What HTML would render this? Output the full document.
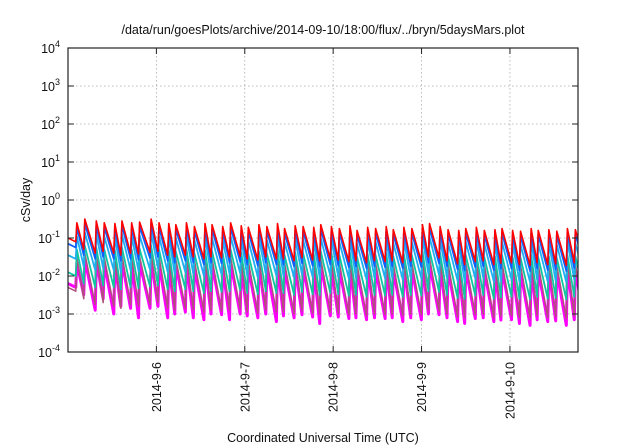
<!DOCTYPE html>
<html><head><meta charset="utf-8"><style>
body{margin:0;background:#fff}
svg{display:block;font-family:"Liberation Sans",Arial,sans-serif}
</style></head><body>
<svg id="chart" width="640" height="448" viewBox="0 0 640 448">
<text x="323" y="34" text-anchor="middle" font-size="12.5" fill="#111">/data/run/goesPlots/archive/2014-09-10/18:00/flux/../bryn/5daysMars.plot</text>
<text transform="translate(30,200) rotate(-90)" text-anchor="middle" font-size="12.5" fill="#111">cSv/day</text>
<text x="323" y="442" text-anchor="middle" font-size="12.5" fill="#111">Coordinated Universal Time (UTC)</text>
<g id="grid"></g><g id="series"></g><g id="axes"></g>
</svg>
<script>
const xTickLabels=["2014-9-6","2014-9-7","2014-9-8","2014-9-9","2014-9-10"];
const xTickDays=[1,2,3,4,5];
const yTickExps=[-4,-3,-2,-1,0,1,2,3,4];
const peakTimes=[0.1,0.19,0.32,0.41,0.53,0.61,0.72,0.81,0.94,1.03,1.14,1.22,1.34,1.43,1.55,1.63,1.75,1.84,1.96,2.04,2.16,2.25,2.37,2.45,2.57,2.66,2.78,2.86,2.98,3.07,3.19,3.27,3.39,3.48,3.60,3.68,3.80,3.89,4.01,4.09,4.21,4.30,4.42,4.50,4.62,4.71,4.83,4.91,5.03,5.12,5.24,5.32,5.44,5.53,5.65,5.74];
const redPeak=[-0.6,-0.5,-0.55,-0.6,-0.62,-0.55,-0.6,-0.58,-0.5,-0.6,-0.62,-0.65,-0.6,-0.7,-0.62,-0.65,-0.7,-0.6,-0.68,-0.72,-0.65,-0.7,-0.62,-0.75,-0.68,-0.7,-0.72,-0.65,-0.7,-0.75,-0.68,-0.8,-0.72,-0.75,-0.7,-0.78,-0.72,-0.75,-0.65,-0.62,-0.7,-0.78,-0.8,-0.75,-0.72,-0.8,-0.78,-0.75,-0.8,-0.82,-0.75,-0.8,-0.78,-0.82,-0.75,-0.78];
const redTrough=[-1.3,-1.4,-1.35,-1.4,-1.45,-1.4,-1.42,-1.38,-1.35,-1.45,-1.5,-1.45,-1.5,-1.55,-1.5,-1.52,-1.5,-1.48,-1.55,-1.58,-1.5,-1.55,-1.55,-1.6,-1.52,-1.58,-1.6,-1.55,-1.58,-1.62,-1.6,-1.65,-1.6,-1.62,-1.6,-1.65,-1.6,-1.62,-1.5,-1.52,-1.6,-1.68,-1.7,-1.62,-1.6,-1.7,-1.66,-1.65,-1.7,-1.72,-1.65,-1.7,-1.68,-1.72,-1.65,-1.4];
const bluePeak=[-0.72,-0.62,-0.67,-0.72,-0.74,-0.67,-0.72,-0.7,-0.62,-0.72,-0.74,-0.77,-0.72,-0.82,-0.74,-0.77,-0.82,-0.72,-0.8,-0.84,-0.77,-0.82,-0.74,-0.87,-0.8,-0.82,-0.84,-0.77,-0.82,-0.87,-0.8,-0.92,-0.84,-0.87,-0.82,-0.9,-0.84,-0.87,-0.77,-0.74,-0.82,-0.9,-0.92,-0.87,-0.84,-0.92,-0.9,-0.87,-0.92,-0.94,-0.87,-0.92,-0.9,-0.94,-0.87,-0.9];
const blueTrough=[-1.45,-1.55,-1.5,-1.55,-1.6,-1.55,-1.57,-1.53,-1.5,-1.6,-1.65,-1.6,-1.65,-1.7,-1.65,-1.67,-1.65,-1.63,-1.7,-1.73,-1.65,-1.7,-1.7,-1.75,-1.67,-1.73,-1.75,-1.7,-1.73,-1.77,-1.75,-1.8,-1.75,-1.77,-1.75,-1.8,-1.75,-1.77,-1.65,-1.67,-1.75,-1.83,-1.85,-1.77,-1.75,-1.85,-1.81,-1.8,-1.85,-1.87,-1.8,-1.85,-1.83,-1.87,-1.8,-1.55];
const skyPeak=[-0.95,-0.85,-0.9,-0.95,-0.97,-0.9,-0.95,-0.93,-0.85,-0.95,-0.97,-1.0,-0.95,-1.05,-0.97,-1.0,-1.05,-0.95,-1.03,-1.07,-1.0,-1.05,-0.97,-1.1,-1.03,-1.05,-1.07,-1.0,-1.05,-1.1,-1.03,-1.15,-1.07,-1.1,-1.05,-1.13,-1.07,-1.1,-1.0,-0.97,-1.05,-1.13,-1.15,-1.1,-1.07,-1.15,-1.13,-1.1,-1.15,-1.17,-1.1,-1.15,-1.13,-1.17,-1.1,-1.13];
const skyTrough=[-1.75,-1.85,-1.8,-1.85,-1.9,-1.85,-1.87,-1.83,-1.8,-1.9,-1.95,-1.9,-1.95,-2.0,-1.95,-1.97,-1.95,-1.93,-2.0,-2.03,-1.95,-2.0,-2.0,-2.05,-1.97,-2.03,-2.05,-2.0,-2.03,-2.07,-2.05,-2.1,-2.05,-2.07,-2.05,-2.1,-2.05,-2.07,-1.95,-1.97,-2.05,-2.13,-2.15,-2.07,-2.05,-2.15,-2.11,-2.1,-2.15,-2.17,-2.1,-2.15,-2.13,-2.17,-2.1,-1.85];
const tealPeak=[-1.3,-1.2,-1.25,-1.3,-1.32,-1.25,-1.3,-1.28,-1.2,-1.3,-1.32,-1.35,-1.3,-1.4,-1.32,-1.35,-1.4,-1.3,-1.38,-1.42,-1.35,-1.4,-1.32,-1.45,-1.38,-1.4,-1.42,-1.35,-1.4,-1.45,-1.38,-1.5,-1.42,-1.45,-1.4,-1.48,-1.42,-1.45,-1.35,-1.32,-1.4,-1.48,-1.5,-1.45,-1.42,-1.5,-1.48,-1.45,-1.5,-1.52,-1.45,-1.5,-1.48,-1.52,-1.45,-1.48];
const tealTrough=[-2.2,-2.3,-2.25,-2.3,-2.35,-2.3,-2.32,-2.28,-2.25,-2.35,-2.4,-2.35,-2.4,-2.45,-2.4,-2.42,-2.4,-2.38,-2.45,-2.48,-2.4,-2.45,-2.45,-2.5,-2.42,-2.48,-2.5,-2.45,-2.48,-2.52,-2.5,-2.55,-2.5,-2.52,-2.5,-2.55,-2.5,-2.52,-2.4,-2.42,-2.5,-2.58,-2.6,-2.52,-2.5,-2.6,-2.56,-2.55,-2.6,-2.62,-2.55,-2.6,-2.58,-2.62,-2.55,-2.3];
const brownPeak=[-1.5,-1.4,-1.45,-1.5,-1.52,-1.45,-1.5,-1.48,-1.4,-1.5,-1.52,-1.55,-1.5,-1.6,-1.52,-1.55,-1.6,-1.5,-1.58,-1.62,-1.55,-1.6,-1.52,-1.65,-1.58,-1.6,-1.62,-1.55,-1.6,-1.65,-1.58,-1.7,-1.62,-1.65,-1.6,-1.68,-1.62,-1.65,-1.55,-1.52,-1.6,-1.68,-1.7,-1.65,-1.62,-1.7,-1.68,-1.65,-1.7,-1.72,-1.65,-1.7,-1.68,-1.72,-1.65,-1.68];
const brownTrough=[-2.6,-2.75,-2.7,-2.8,-2.85,-2.75,-2.8,-2.75,-2.7,-2.85,-2.9,-2.85,-2.9,-2.95,-2.9,-2.92,-2.9,-2.88,-2.95,-2.98,-2.9,-2.95,-2.95,-3.0,-2.92,-2.98,-3.0,-2.95,-2.98,-3.02,-3.0,-3.05,-3.0,-3.02,-3.0,-3.05,-3.0,-3.02,-2.9,-2.92,-3.0,-3.08,-3.1,-3.02,-3.0,-3.1,-3.06,-3.05,-3.1,-3.12,-3.05,-3.1,-3.08,-3.12,-3.05,-2.8];
const magentaPeak=[-1.65,-1.55,-1.6,-1.65,-1.67,-1.6,-1.65,-1.63,-1.55,-1.65,-1.67,-1.7,-1.65,-1.75,-1.67,-1.7,-1.75,-1.65,-1.73,-1.77,-1.7,-1.75,-1.67,-1.8,-1.73,-1.75,-1.77,-1.7,-1.75,-1.8,-1.73,-1.85,-1.77,-1.8,-1.75,-1.83,-1.77,-1.8,-1.7,-1.67,-1.75,-1.83,-1.85,-1.8,-1.77,-1.85,-1.83,-1.8,-1.85,-1.87,-1.8,-1.85,-1.83,-1.87,-1.8,-1.83];
const magentaTrough=[-2.5,-2.9,-2.6,-3.0,-2.8,-2.85,-3.1,-2.85,-2.8,-3.1,-3.0,-2.95,-3.1,-3.15,-3.0,-3.02,-3.15,-3.0,-3.05,-3.1,-3.0,-3.2,-3.05,-3.1,-3.02,-3.08,-3.25,-3.05,-3.08,-3.12,-3.1,-3.15,-3.1,-3.12,-3.1,-3.2,-3.1,-3.15,-3.0,-3.02,-3.1,-3.2,-3.25,-3.12,-3.1,-3.2,-3.16,-3.15,-3.25,-3.3,-3.15,-3.2,-3.18,-3.3,-3.15,-2.9];
const L=68,R=578,T=48,B=352,D0=0,D1=5.77,E0=-4,E1=4;
const NS="http://www.w3.org/2000/svg";
function xs(d){return L+(d-D0)/(D1-D0)*(R-L);}
function ys(e){return B-(e-E0)/(E1-E0)*(B-T);}
function mk(tag,attrs,parent){const el=document.createElementNS(NS,tag);for(const k in attrs)el.setAttribute(k,attrs[k]);parent.appendChild(el);return el;}
const grid=document.getElementById('grid'),axes=document.getElementById('axes'),ser=document.getElementById('series');
yTickExps.forEach(e=>{
  const y=ys(e);
  if(e>E0&&e<E1){const g=mk('line',{x1:L,x2:R,y1:y,y2:y,stroke:'#aaa','stroke-width':0.8,'stroke-dasharray':'1.5,2.5'},grid);
  
  }
  const t=mk('text',{x:L-8,y:y+5,'text-anchor':'end','font-size':'12.5',fill:'#111'},axes);
  
  
  t.textContent='10';
  const s=mk('tspan',{dy:-6,'font-size':'9'},t);s.textContent=String(e);
  mk('line',{x1:L,x2:L+6,y1:y,y2:y,stroke:'#222'},axes);
  mk('line',{x1:R,x2:R-6,y1:y,y2:y,stroke:'#222'},axes);
});
xTickDays.forEach((d,i)=>{
  const x=xs(d);
  const g=mk('line',{x1:x,x2:x,y1:T,y2:B,stroke:'#aaa','stroke-width':0.8,'stroke-dasharray':'1.5,2.5'},grid);
  
  
  mk('line',{x1:x,x2:x,y1:B,y2:B-6,stroke:'#222'},axes);
  mk('line',{x1:x,x2:x,y1:T,y2:T+6,stroke:'#222'},axes);
  const t=mk('text',{transform:`translate(${x+4.5},362) rotate(-90)`,'text-anchor':'end','font-size':'12.5',fill:'#111'},axes);
  
  
  t.textContent=xTickLabels[i];
});
const frame=mk('rect',{x:L,y:T,width:R-L,height:B-T,fill:'none',stroke:'#222','stroke-width':1.2},axes);


const defs=mk('clipPath',{id:'clip'},ser);mk('rect',{x:L,y:T,width:R-L,height:B-T},defs);
const seriesList=[
 ['magenta-series',magentaPeak,magentaTrough,'#ff00ff',3],
 ['brown-series',brownPeak,brownTrough,'#b0507a',1.5],
 ['teal-series',tealPeak,tealTrough,'#10c8a0',1.8],
 ['sky-series',skyPeak,skyTrough,'#20b0f0',1.8],
 ['blue-series',bluePeak,blueTrough,'#1060ff',1.8],
 ['red-series',redPeak,redTrough,'#ff0000',1.6]];
seriesList.forEach(([name,pk,tr,col,w])=>{
  let d=`M${xs(0)},${ys(tr[0]+0.3)}`;
  for(let i=0;i<peakTimes.length;i++){
    const t=peakTimes[i];
    d+=` L${xs(t-0.012)},${ys(i?tr[i-1]:tr[0]+0.2)} L${xs(t)},${ys(pk[i])}`;
    const tn=i+1<peakTimes.length?peakTimes[i+1]-0.012:D1+0.05;
    d+=` L${xs(tn)},${ys(tr[i])}`;
  }
  const p=mk('path',{d:d,fill:'none',stroke:col,'stroke-width':w,'stroke-linejoin':'round','clip-path':'url(#clip)'},ser);
  
  
});
</script>
</body></html>
